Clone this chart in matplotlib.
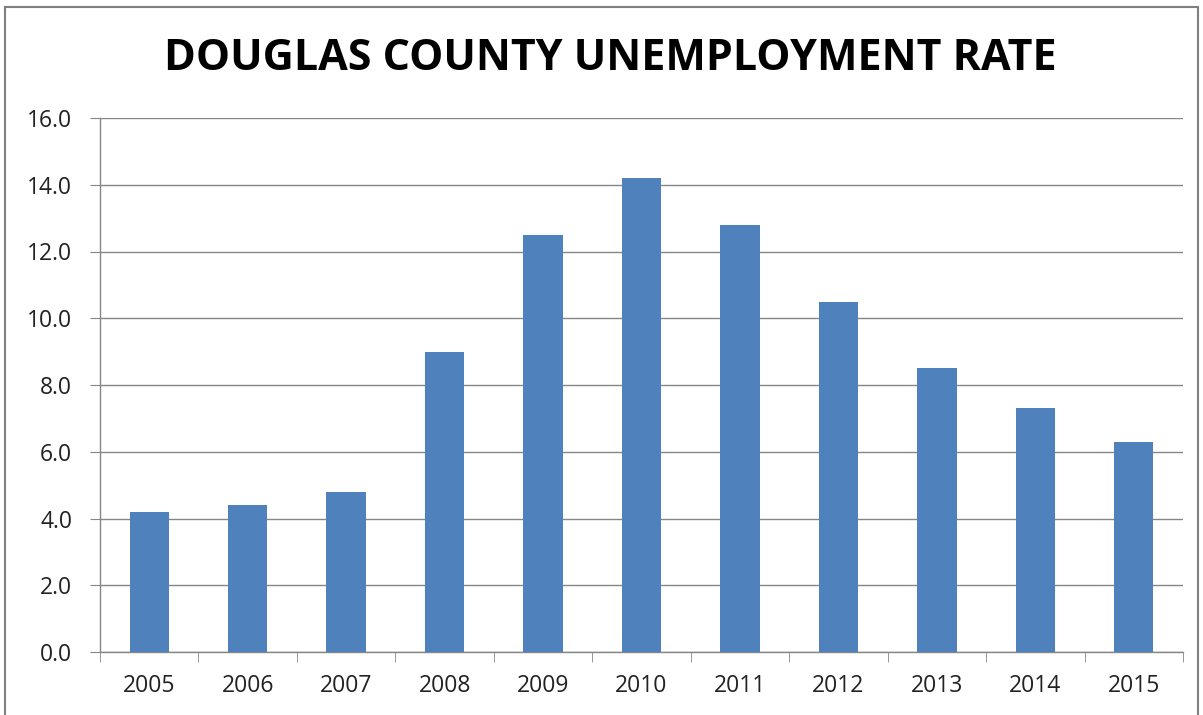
import matplotlib
matplotlib.use('Agg')
import matplotlib.pyplot as plt
from matplotlib.patches import Rectangle

# Douglas County unemployment rate by year
years = ['2005', '2006', '2007', '2008', '2009', '2010', '2011', '2012', '2013', '2014', '2015']
rates = [4.2, 4.4, 4.8, 9.0, 12.5, 14.2, 12.8, 10.5, 8.5, 7.3, 6.3]
y_ticks = [0, 2, 4, 6, 8, 10, 12, 14, 16]

grid_col = '#868686'
bar_col = '#4F81BD'

fig = plt.figure(figsize=(12.03, 7.15), dpi=100)
ax = fig.add_axes([100 / 1203, 1 - 652 / 715, 1083 / 1203, 534 / 715])

x = range(len(years))
ax.bar(x, rates, width=0.4, color=bar_col, zorder=3)

ax.set_xlim(-0.5, len(years) - 0.5)
ax.set_ylim(0, 16)
ax.set_yticks(y_ticks)
ax.set_yticklabels([f'{v:.1f}' for v in y_ticks])
ax.set_xticks(x)
ax.set_xticklabels(years)
ax.set_xticks([i - 0.5 for i in range(len(years) + 1)], minor=True)

ax.yaxis.grid(True, color=grid_col, linewidth=1)
ax.set_axisbelow(True)
for s in ['top', 'right']:
    ax.spines[s].set_visible(False)
for s in ['left', 'bottom']:
    ax.spines[s].set_color(grid_col)
    ax.spines[s].set_linewidth(1)

ax.tick_params(axis='y', length=7, color=grid_col, pad=13, labelsize=16.5, labelcolor='#222222')
ax.tick_params(axis='x', which='major', length=0, pad=16, labelsize=16.5, labelcolor='#222222')
ax.tick_params(axis='x', which='minor', length=7, color=grid_col)
for lab in ax.get_xticklabels() + ax.get_yticklabels():
    lab.set_fontfamily('Open Sans')

fig.text(0.507, 1 - 58 / 715, 'DOUGLAS COUNTY UNEMPLOYMENT RATE', ha='center', va='center',
         fontsize=31, fontweight='bold', family='Open Sans')

# outer chart border
fig.patches.append(Rectangle((5 / 1203, -0.01), 1193 / 1203, 1 - 7 / 715 + 0.01,
                             transform=fig.transFigure, fill=False, edgecolor='#7f7f7f', linewidth=1.5))

plt.savefig('out.png', dpi=100)
